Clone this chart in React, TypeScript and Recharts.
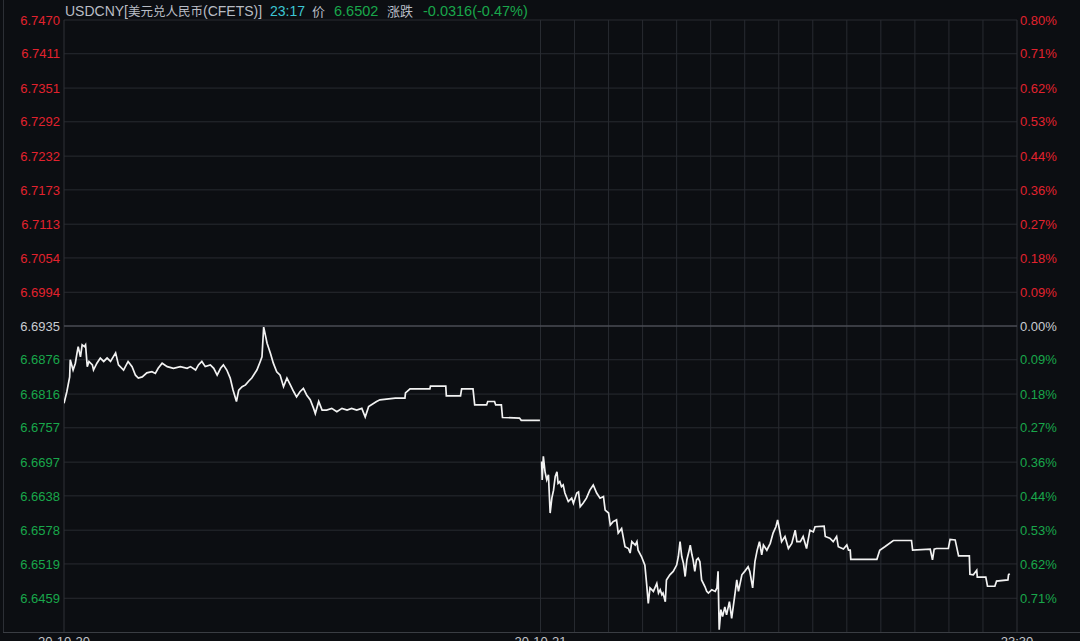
import React from 'react';
import { ComposedChart, Line, XAxis, YAxis, ReferenceLine } from 'recharts';

const baseClose = 6.6935;
const leftTickLabels = ['6.7470','6.7411','6.7351','6.7292','6.7232','6.7173','6.7113','6.7054','6.6994','6.6935','6.6876','6.6816','6.6757','6.6697','6.6638','6.6578','6.6519','6.6459'];
const rightTickLabels = ['0.80%','0.71%','0.62%','0.53%','0.44%','0.36%','0.27%','0.18%','0.09%','0.00%','0.09%','0.18%','0.27%','0.36%','0.44%','0.53%','0.62%','0.71%'];
const xTickMinutes = [0, 840, 1680];
const xTickLabels = ['20-10-20', '20-10-21', '23:30'];
const hourGridMinutes = [840, 900, 960, 1020, 1080, 1140, 1200, 1260, 1320, 1380, 1440, 1500, 1560, 1620];

const day1Minutes = [0,5,10,11,16,20,23,25,29,32,36,38,41,44,50,52,58,64,70,76,82,91,96,105,113,120,126,131,138,146,155,161,166,173,182,193,205,217,223,232,237,243,249,258,264,270,276,281,287,293,298,304,308,314,320,325,331,340,346,349,352,355,358,364,369,375,381,387,393,399,405,410,416,422,428,434,440,443,449,455,463,472,481,490,499,507,516,525,531,537,551,557,584,601,602,610,645,646,673,674,699,701,721,724,745,747,759,761,771,773,803,806,839];
const day1Prices = [6.6800,6.6820,6.6846,6.6876,6.6858,6.6870,6.6888,6.6899,6.6881,6.6902,6.6899,6.6902,6.6864,6.6873,6.6867,6.6858,6.6870,6.6879,6.6873,6.6879,6.6873,6.6888,6.6867,6.6858,6.6873,6.6864,6.6849,6.6844,6.6846,6.6853,6.6855,6.6852,6.6861,6.6870,6.6864,6.6861,6.6864,6.6861,6.6864,6.6858,6.6867,6.6873,6.6864,6.6867,6.6861,6.6849,6.6861,6.6867,6.6858,6.6844,6.6823,6.6803,6.6823,6.6829,6.6832,6.6838,6.6844,6.6858,6.6873,6.6881,6.6933,6.6919,6.6905,6.6887,6.6870,6.6855,6.6849,6.6829,6.6844,6.6832,6.6820,6.6811,6.6820,6.6826,6.6814,6.6806,6.6791,6.6782,6.6803,6.6788,6.6788,6.6791,6.6785,6.6791,6.6788,6.6791,6.6788,6.6791,6.6776,6.6794,6.6803,6.6806,6.6809,6.6809,6.6818,6.6825,6.6825,6.6830,6.6830,6.6813,6.6813,6.6825,6.6825,6.6797,6.6797,6.6803,6.6803,6.6797,6.6797,6.6775,6.6774,6.6770,6.6770];

const day2Minutes = [842,843,845,848,851,854,857,860,863,866,869,871,874,877,880,883,889,895,898,904,907,910,915,921,927,933,939,945,951,954,960,963,968,974,977,983,989,995,998,1001,1007,1010,1012,1018,1024,1027,1030,1033,1039,1045,1048,1051,1054,1056,1060,1062,1068,1074,1080,1083,1086,1089,1092,1095,1098,1101,1104,1107,1109,1112,1115,1118,1121,1124,1130,1133,1136,1142,1148,1151,1153,1155,1158,1161,1165,1168,1173,1177,1183,1186,1189,1195,1200,1206,1209,1214,1218,1222,1226,1230,1233,1239,1245,1250,1255,1258,1262,1265,1271,1277,1283,1289,1292,1298,1303,1309,1315,1321,1324,1340,1342,1350,1356,1362,1365,1374,1380,1383,1386,1387,1433,1438,1447,1462,1494,1496,1527,1531,1534,1538,1559,1562,1571,1577,1596,1597,1603,1609,1610,1625,1628,1641,1644,1664,1665,1667];
const day2Prices = [6.6698,6.6666,6.6707,6.6680,6.6666,6.6675,6.6608,6.6634,6.6648,6.6672,6.6680,6.6660,6.6663,6.6654,6.6657,6.6643,6.6628,6.6634,6.6625,6.6643,6.6645,6.6619,6.6625,6.6634,6.6648,6.6657,6.6643,6.6634,6.6637,6.6613,6.6608,6.6587,6.6593,6.6596,6.6573,6.6581,6.6549,6.6546,6.6538,6.6558,6.6552,6.6558,6.6543,6.6532,6.6517,6.6485,6.6450,6.6477,6.6471,6.6485,6.6468,6.6474,6.6465,6.6468,6.6453,6.6491,6.6500,6.6506,6.6517,6.6532,6.6558,6.6532,6.6520,6.6497,6.6526,6.6538,6.6552,6.6535,6.6526,6.6506,6.6526,6.6529,6.6523,6.6491,6.6479,6.6471,6.6468,6.6474,6.6471,6.6477,6.6506,6.6404,6.6439,6.6427,6.6444,6.6430,6.6453,6.6424,6.6468,6.6491,6.6471,6.6500,6.6506,6.6514,6.6506,6.6477,6.6523,6.6543,6.6558,6.6535,6.6552,6.6543,6.6555,6.6573,6.6584,6.6596,6.6575,6.6558,6.6567,6.6546,6.6555,6.6578,6.6558,6.6558,6.6567,6.6546,6.6578,6.6575,6.6584,6.6585,6.6567,6.6564,6.6558,6.6567,6.6549,6.6545,6.6552,6.6543,6.6543,6.6527,6.6527,6.6543,6.6549,6.6560,6.6560,6.6543,6.6545,6.6526,6.6545,6.6546,6.6546,6.6562,6.6561,6.6533,6.6533,6.6501,6.6500,6.6508,6.6496,6.6496,6.6480,6.6480,6.6489,6.6491,6.6500,6.6502];

const data: { m: number; price: number | null }[] = [
  ...day1Minutes.map((m, i) => ({ m, price: day1Prices[i] })),
  { m: 840, price: null },
  ...day2Minutes.map((m, i) => ({ m, price: day2Prices[i] })),
];

const leftTicks = leftTickLabels.map((l) => parseFloat(l));

const RED = '#e2222e';
const GREEN = '#19a74b';
const NEUTRAL = '#c9ccd1';
const GRID = '#282b31';
const BG = '#0c0e12';
const FONT = '"Liberation Sans", Arial, "Noto Sans CJK SC", sans-serif';
const CJK = '"Noto Sans CJK SC", sans-serif';

const colorFor = (v: number) =>
  Math.abs(v - baseClose) < 1e-6 ? NEUTRAL : v > baseClose ? RED : GREEN;

const LeftTick = (props: any) => {
  const { x, y, payload } = props;
  const v = payload.value as number;
  const idx = leftTicks.findIndex((t) => Math.abs(t - v) < 1e-7);
  return (
    <text x={x} y={y} dy="0.36em" textAnchor="end" fill={colorFor(v)} fontSize={13} fontFamily={FONT}>
      {leftTickLabels[idx]}
    </text>
  );
};

const RightTick = (props: any) => {
  const { x, y, payload } = props;
  const v = payload.value as number;
  const idx = leftTicks.findIndex((t) => Math.abs(t - v) < 1e-7);
  return (
    <text x={x} y={y} dy="0.36em" textAnchor="start" fill={colorFor(v)} fontSize={13} fontFamily={FONT}>
      {rightTickLabels[idx]}
    </text>
  );
};

const BottomTick = (props: any) => {
  const { x, y, payload } = props;
  const idx = xTickMinutes.indexOf(payload.value);
  return (
    <text x={x} y={y + 14} textAnchor="middle" fill="#c4c6ca" fontSize={13} fontFamily={FONT}>
      {xTickLabels[idx]}
    </text>
  );
};

const seg = (text: string, left: number, color: string, size = 14, family = FONT) => (
  <span
    style={{
      position: 'absolute',
      left,
      top: 0,
      height: 22,
      lineHeight: '22px',
      fontSize: size,
      color,
      fontFamily: family,
      whiteSpace: 'nowrap',
    }}
  >
    {text}
  </span>
);

export default function App() {
  const TITLE = '#b9bdc5';
  return (
    <div style={{ position: 'absolute', left: 0, top: 0, width: 1080, height: 641, background: BG, overflow: 'hidden' }}>
      <div style={{ position: 'absolute', left: 3, top: 0, width: 1, height: 632, background: '#2c2f35' }} />
      <div style={{ position: 'absolute', left: 3, top: 632, width: 1077, height: 1, background: '#3a3d43' }} />
      <ComposedChart
        width={1080}
        height={641}
        data={data}
        margin={{ top: 20, right: 0, bottom: 0, left: 0 }}
        style={{ position: 'absolute', left: 0, top: 0 }}
      >
        <XAxis
          dataKey="m"
          type="number"
          domain={[0, 1680]}
          ticks={xTickMinutes}
          interval={0}
          axisLine={false}
          tickLine={false}
          tickSize={0}
          tickMargin={0}
          height={9}
          tick={<BottomTick />}
          allowDataOverflow
        />
        <YAxis
          yAxisId="left"
          orientation="left"
          type="number"
          domain={[6.64, 6.747]}
          ticks={leftTicks}
          interval={0}
          width={64}
          axisLine={false}
          tickLine={false}
          tickSize={0}
          tickMargin={4}
          tick={<LeftTick />}
          allowDataOverflow
        />
        <YAxis
          yAxisId="right"
          orientation="right"
          type="number"
          domain={[6.64, 6.747]}
          ticks={leftTicks}
          interval={0}
          width={63}
          axisLine={false}
          tickLine={false}
          tickSize={0}
          tickMargin={3}
          tick={<RightTick />}
          allowDataOverflow
        />
        {leftTicks
          .filter((t) => Math.abs(t - baseClose) > 1e-6)
          .map((t) => (
            <ReferenceLine key={'h' + t} yAxisId="left" y={t} stroke={GRID} strokeWidth={1} />
          ))}
        {hourGridMinutes.map((m) => (
          <ReferenceLine key={'v' + m} yAxisId="left" x={m} stroke={GRID} strokeWidth={1} />
        ))}
        <ReferenceLine yAxisId="left" x={0} stroke="#2e3137" strokeWidth={1} />
        <ReferenceLine yAxisId="left" x={1680} stroke="#2e3137" strokeWidth={1} />
        <ReferenceLine yAxisId="left" y={baseClose} stroke="#4a4d54" strokeWidth={1.6} />
        <Line
          yAxisId="left"
          dataKey="price"
          type="linear"
          stroke="#f2f2f2"
          strokeWidth={1.7}
          dot={false}
          connectNulls={false}
          isAnimationActive={false}
        />
      </ComposedChart>
      {seg('USDCNY[', 65, TITLE)}
      {seg('美元兑人民币', 128, TITLE, 12.5, CJK)}
      {seg('(CFETS)]', 203, TITLE)}
      {seg('23:17', 270, '#3cc6d4')}
      {seg('价', 312, TITLE, 13, CJK)}
      {seg('6.6502', 334, GREEN, 14.5)}
      {seg('涨跌', 387, TITLE, 13, CJK)}
      {seg('-0.0316(-0.47%)', 423, GREEN, 14.5)}
    </div>
  );
}
